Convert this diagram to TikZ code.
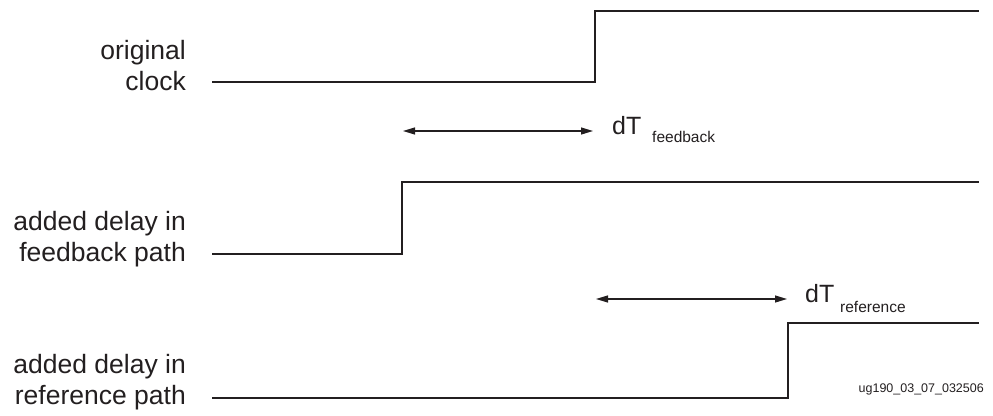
\documentclass[tikz,border=0pt]{standalone}
\usepackage{fontspec}
\setmainfont{Liberation Sans}
\usetikzlibrary{arrows.meta}
\definecolor{ink}{HTML}{231F20}
\tikzset{
  wave/.style={line width=2.8pt, color=ink, line join=miter},
  dim/.style={line width=1.2pt, color=ink, {Triangle[length=12pt,width=7pt]}-{Triangle[length=12pt,width=7pt]}},
  lbl/.style={anchor=base east, inner sep=0pt, text=ink, font=\fontsize{26.5}{31}\selectfont},
  dtl/.style={anchor=base west, inner sep=0pt, text=ink, font=\fontsize{25}{28}\selectfont},
  subl/.style={anchor=base west, inner sep=0pt, text=ink, font=\fontsize{15.5}{18}\selectfont},
  foot/.style={anchor=base east, inner sep=0pt, text=ink, font=\fontsize{12.5}{15}\selectfont}
}
\begin{document}
\begin{tikzpicture}[x=1pt,y=-1pt]
\useasboundingbox (0,0) rectangle (993,415);
% labels
\node[lbl] (l1a) at (186,59) {original};
\node[lbl] (l1b) at (186,90) {clock};
\node[lbl] (l2a) at (186,230) {added delay in};
\node[lbl] (l2b) at (186,261) {feedback path};
\node[lbl] (l3a) at (186,373) {added delay in};
\node[lbl] (l3b) at (186,404) {reference path};
% waveforms
\coordinate (w1s) at (212,82);
\coordinate (w1e) at (979,11);
\draw[wave] (w1s) -- (595,82) -- (595,11) -- (w1e);
\coordinate (w2s) at (212,254);
\coordinate (w2e) at (979,182);
\draw[wave] (w2s) -- (402,254) -- (402,182) -- (w2e);
\coordinate (w3s) at (212,398);
\coordinate (w3e) at (979,323);
\draw[wave] (w3s) -- (788,398) -- (788,323) -- (w3e);
% dimension arrows
\coordinate (a1l) at (403,131);
\coordinate (a1r) at (593,131);
\draw[dim] (a1l) -- (a1r);
\node[dtl] (dt1) at (612,134) {dT};
\node[subl] (s1) at (652,142) {feedback};
\coordinate (a2l) at (596,299);
\coordinate (a2r) at (787,299);
\draw[dim] (a2l) -- (a2r);
\node[dtl] (dt2) at (805,302) {dT};
\node[subl] (s2) at (840,312) {reference};
% footer
\node[foot] (ft) at (984,392) {ug190\_03\_07\_032506};
\end{tikzpicture}
\end{document}
